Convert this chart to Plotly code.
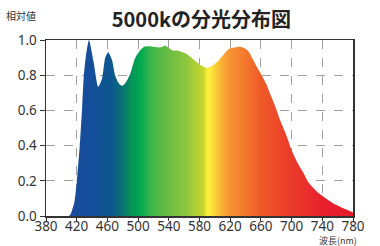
import plotly.graph_objects as go

wavelength = [410, 412, 417, 420, 424, 427, 429, 432, 436, 442, 448, 453, 457, 461, 466,
              470, 475, 479, 483, 490, 496, 503, 508, 515, 521, 528, 532, 536, 541, 546,
              551, 555, 563, 572, 580, 586, 590, 594, 598, 604, 611, 616, 620, 626, 633,
              638, 643, 650, 655, 661, 667, 672, 679, 685, 693, 700, 708, 716, 722, 729,
              735, 742, 748, 755, 762, 768, 775, 780]
relative = [0.0, 0.01, 0.08, 0.19, 0.40, 0.61, 0.78, 0.91, 1.0, 0.877, 0.734, 0.78, 0.896,
            0.93, 0.886, 0.80, 0.753, 0.74, 0.753, 0.81, 0.896, 0.943, 0.962, 0.965, 0.962,
            0.958, 0.962, 0.968, 0.952, 0.94, 0.94, 0.935, 0.922, 0.89, 0.862, 0.847, 0.843,
            0.848, 0.857, 0.88, 0.915, 0.94, 0.953, 0.958, 0.962, 0.955, 0.94, 0.886, 0.845,
            0.80, 0.75, 0.695, 0.62, 0.545, 0.46, 0.374, 0.30, 0.24, 0.19, 0.156, 0.13,
            0.108, 0.09, 0.07, 0.055, 0.042, 0.03, 0.02]

x_ticks = [380, 420, 460, 500, 540, 580, 620, 660, 700, 740, 780]
y_ticks = [0.0, 0.2, 0.4, 0.6, 0.8, 1.0]

spectrum_nm = [380, 410, 440, 465, 478, 490, 503, 516, 540, 562, 585, 591, 596, 604,
               613, 620, 660, 700, 744, 780]
spectrum_col = ["#1b4c9c", "#1b4c9c", "#144e9a", "#0c5790", "#0b6f75", "#06905a",
                "#00aa50", "#3ab54a", "#6cbd44", "#8cc63f", "#c8d62e", "#fff13a",
                "#fde23a", "#fac236", "#f8a534", "#f59331", "#f05a28", "#eb3a2a",
                "#e81f2d", "#e61c2c"]

lo, hi = x_ticks[0], x_ticks[-1]
colorscale = [[(n - lo) / (hi - lo), c] for n, c in zip(spectrum_nm, spectrum_col)]

fig = go.Figure()
fig.add_trace(go.Scatter(
    x=wavelength, y=relative, mode="lines", fill="tozeroy",
    line=dict(width=0, shape="spline", smoothing=0.6),
    fillgradient=dict(type="horizontal", colorscale=colorscale, start=lo, stop=hi),
    hoverinfo="skip", showlegend=False,
))

font_num = "Noto Sans, sans-serif"
fig.update_xaxes(
    range=[lo, hi], tickvals=x_ticks, ticktext=[str(v) for v in x_ticks],
    showgrid=True, gridcolor="#a0a0a0", griddash="dash", gridwidth=1,
    showline=True, linecolor="#333333", linewidth=1.5, mirror=True,
    ticks="outside", ticklen=3, tickcolor="#333333", tickwidth=1,
    ticklabelstandoff=-6,
    tickfont=dict(family=font_num, size=13.5, color="#333333"), zeroline=False,
    automargin=False,
)
fig.update_yaxes(
    range=[0, 1], tickvals=y_ticks, ticktext=[f"{v:.1f}" for v in y_ticks],
    showgrid=True, gridcolor="#a0a0a0", griddash="dash", gridwidth=1,
    showline=True, linecolor="#333333", linewidth=1.5, mirror=True,
    ticks="outside", ticklen=5, tickcolor="#333333", tickwidth=1,
    tickfont=dict(family=font_num, size=13.5, color="#333333"), zeroline=False,
    automargin=False,
)

fig.update_layout(
    width=380, height=246,
    margin=dict(l=46, r=27, t=40, b=30, autoexpand=False),
    paper_bgcolor="white", plot_bgcolor="white",
    title=dict(text="<b>5000kの分光分布図</b>", x=0.53, xanchor="center",
               y=0.92, yanchor="middle", automargin=False,
               font=dict(family="Noto Sans CJK JP", size=20, color="#222222")),
    annotations=[
        dict(text="相対値", xref="paper", yref="paper", x=-0.08, y=1.14,
             xanchor="center", yanchor="middle", showarrow=False,
             font=dict(family="Noto Sans CJK JP", size=10, color="#333333")),
        dict(text="波長(nm)", xref="paper", yref="paper", x=1.015, y=-0.137,
             xanchor="right", yanchor="middle", showarrow=False, borderpad=0,
             font=dict(family="Noto Sans CJK JP", size=9, color="#333333")),
    ],
)

fig.write_html("out.html", config={"displayModeBar": False, "staticPlot": True},
               post_script="document.body.style.margin='0';document.body.style.overflow='hidden';")
